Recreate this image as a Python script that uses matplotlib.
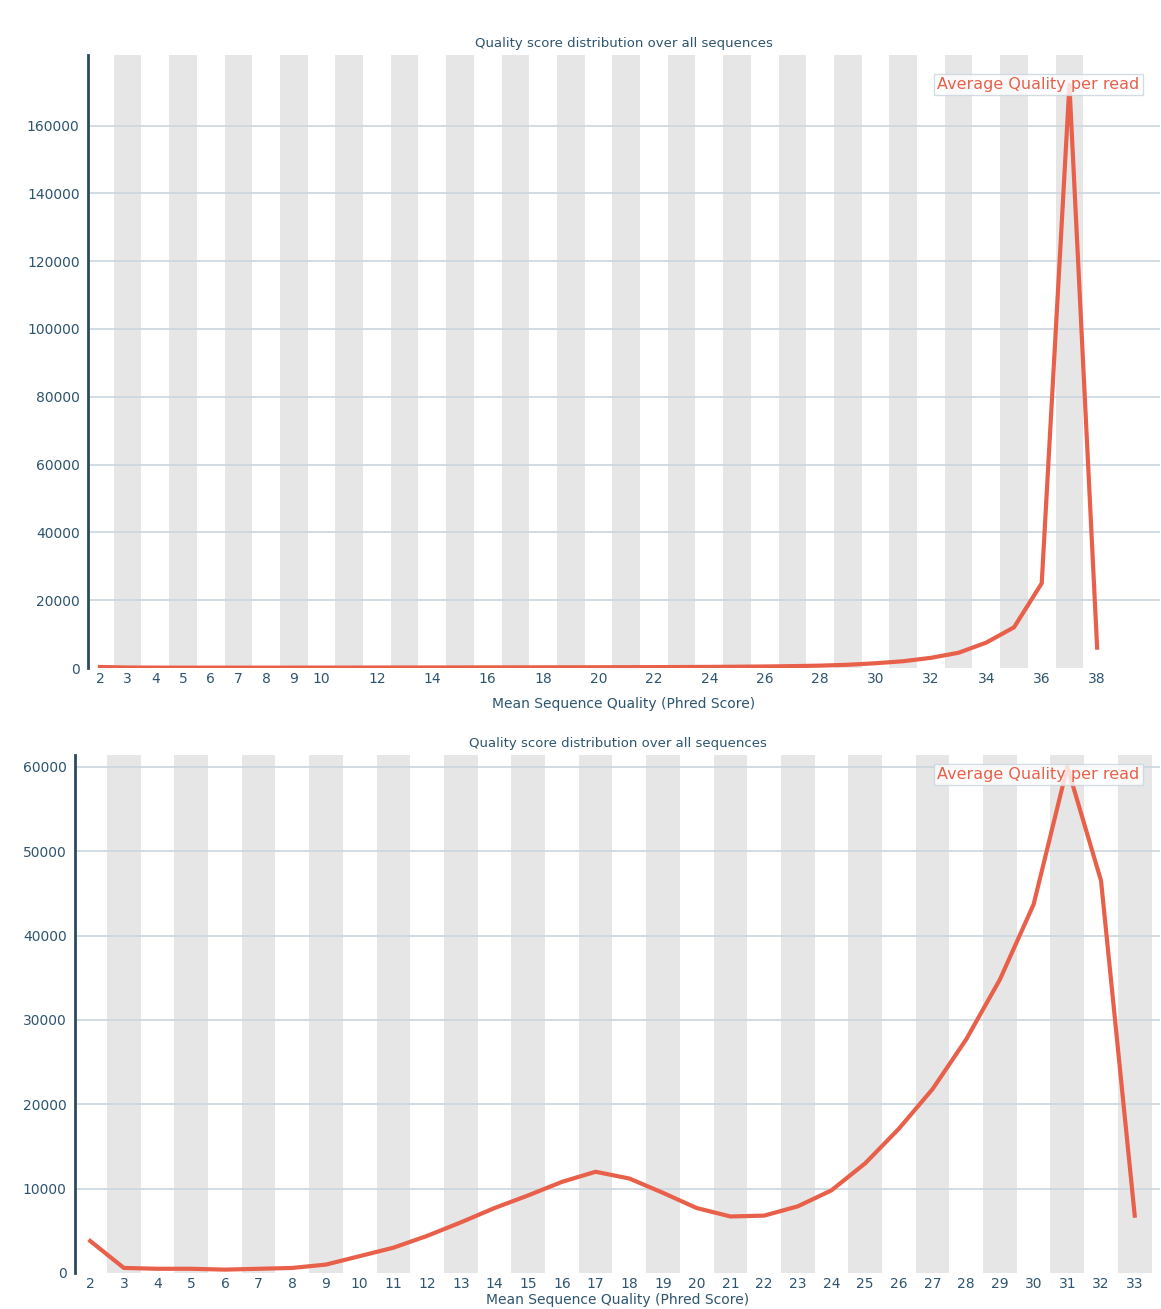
import matplotlib
matplotlib.use("Agg")
import matplotlib.pyplot as plt

# ---- data ----
top_q = list(range(2, 39))
top_counts = [300, 150, 120, 110, 110, 110, 110, 120, 120, 130, 140, 150, 160, 170,
              180, 190, 200, 210, 220, 240, 260, 290, 330, 380, 450, 550, 700, 950,
              1400, 2000, 3000, 4500, 7500, 12000, 25000, 172000, 6000]
top_xticks = [2, 3, 4, 5, 6, 7, 8, 9, 10, 12, 14, 16, 18, 20, 22, 24, 26, 28, 30, 32, 34, 36, 38]
top_yticks = [0, 20000, 40000, 60000, 80000, 100000, 120000, 140000, 160000]

bot_q = list(range(2, 34))
bot_counts = [3800, 600, 500, 500, 400, 500, 600, 1000, 2000, 3000, 4400, 6000, 7700,
              9200, 10800, 12000, 11200, 9500, 7700, 6700, 6800, 7900, 9800, 13000,
              17100, 21800, 27700, 34800, 43700, 60000, 46500, 6800]
bot_xticks = list(range(2, 34))
bot_yticks = [0, 10000, 20000, 30000, 40000, 50000, 60000]

title = "Quality score distribution over all sequences"
xlabel = "Mean Sequence Quality (Phred Score)"
legend_label = "Average Quality per read"

LINE = "#e8604a"
TXT = "#2e5570"
GRID = "#cbd6de"
STRIPE = "#e6e6e6"

fig = plt.figure(figsize=(11.61, 13.09), dpi=100)

def draw(ax, q, counts, xticks, yticks, xlim, ylim, leg_anchor, xlabelpad):
    ax.set_xlim(*xlim)
    ax.set_ylim(*ylim)
    for v in q:
        if v % 2 == 1:
            ax.axvspan(v - 0.5, v + 0.5, color=STRIPE, lw=0, zorder=0)
    for y in yticks[1:]:
        ax.axhline(y, color=GRID, lw=1.2, zorder=1)
    ax.plot(q, counts, color=LINE, lw=3, zorder=3, label=legend_label, solid_joinstyle="round")
    ax.set_xticks(xticks)
    ax.set_xticklabels([str(t) for t in xticks])
    ax.set_yticks(yticks)
    ax.set_yticklabels([str(t) for t in yticks])
    ax.tick_params(length=0, colors=TXT, labelsize=10)
    ax.tick_params(axis="x", pad=3)
    ax.tick_params(axis="y", pad=6)
    for s in ["top", "right", "bottom"]:
        ax.spines[s].set_visible(False)
    ax.spines["left"].set_color("#2a4a5e")
    ax.spines["left"].set_linewidth(2)
    ax.set_title(title, color=TXT, fontsize=9.5, pad=6)
    ax.set_xlabel(xlabel, color=TXT, fontsize=10, labelpad=xlabelpad)
    leg = ax.legend(loc="upper left", handlelength=0, handletextpad=0, labelcolor=LINE,
                    fontsize=11.5, frameon=True, fancybox=False, borderpad=0.2,
                    bbox_to_anchor=leg_anchor)
    leg.get_frame().set_edgecolor("#c8d4dc")
    leg.get_frame().set_linewidth(1)
    for h in leg.legend_handles:
        h.set_visible(False)

ax1 = fig.add_axes([88 / 1161, 1 - 668 / 1309, (1160 - 88) / 1161, (668 - 55) / 1309])
draw(ax1, top_q, top_counts, top_xticks, top_yticks, (1.57, 40.27), (0, 180800),
     ((926 - 88) / 1072, 0.982), 8)

ax2 = fig.add_axes([75 / 1161, 1 - 1273 / 1309, (1160 - 75) / 1161, (1273 - 755) / 1309])
draw(ax2, bot_q, bot_counts, bot_xticks, bot_yticks, (1.55, 33.75), (0, 61400),
     ((926 - 75) / 1085, 0.998), 1)

fig.savefig("out.png", dpi=100)
